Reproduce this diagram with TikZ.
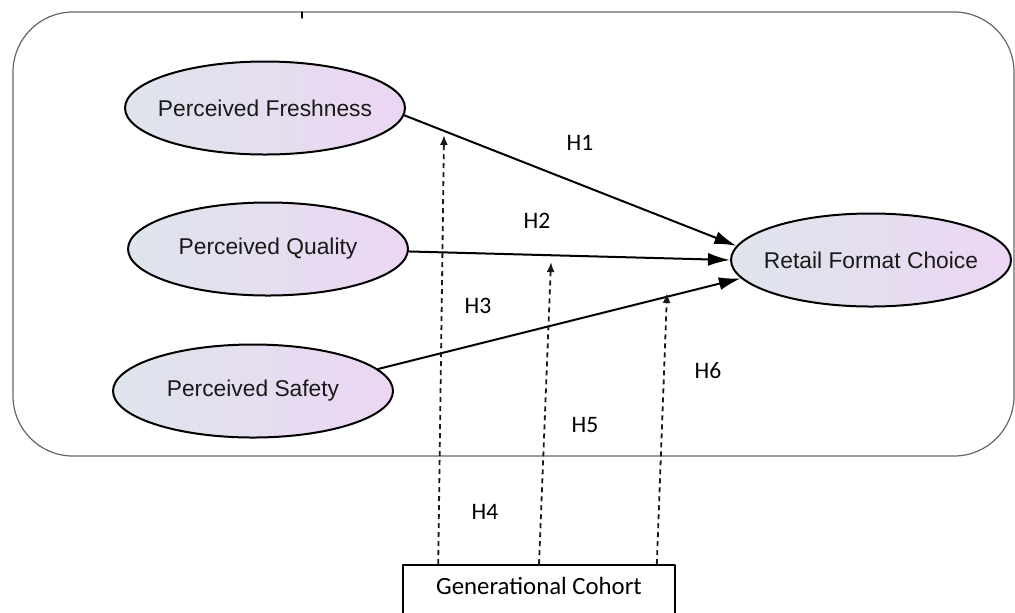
\documentclass[tikz,border=0pt]{standalone}
\usepackage{fontspec}
\setmainfont{Liberation Sans}
\newfontfamily\calibri{Carlito}
\usetikzlibrary{arrows.meta}
\usetikzlibrary{shapes.geometric}

\definecolor{lblue}{RGB}{222,229,236}
\definecolor{lpink}{RGB}{236,214,243}

\begin{document}
\begin{tikzpicture}[line cap=round,line join=round,x=0.5pt,y=-0.5pt,
  construct/.style={ellipse,draw,line width=1pt,left color=lblue,right color=lpink,minimum width=140pt,minimum height=46.5pt,inner sep=0pt,font=\fontsize{11.4}{13}\selectfont,text=black!90},
  effect/.style={line width=1pt,-{Latex[length=11pt,width=6.5pt]}},
  moderation/.style={line width=0.9pt,line cap=butt,black!90,dash pattern=on 2.5pt off 2pt,-{Latex[length=5pt,width=4pt]}},
  hyp/.style={font=\calibri\fontsize{11.8}{13}\selectfont}]
\fill[white] (0,0) rectangle (1015,612);
\useasboundingbox (0,0) rectangle (1015,612);
\draw[black!60,line width=0.6pt,rounded corners=30pt] (13,12) rectangle (1014,456);
\draw[line width=0.6pt] (302,12) -- (302,18);
\node[construct] (fresh) at (265,108) {\makebox[0pt]{Perceived Freshness}};
\node[construct] (quality) at (268,249) {\makebox[0pt]{Perceived Quality}};
\node[construct] (safety) at (253,391) {\makebox[0pt]{Perceived Safety}};
\node[construct] (retail) at (871,260) {\makebox[0pt]{Retail Format Choice}};
\node[draw,line width=0.8pt,minimum width=136pt,minimum height=24.5pt,text depth=3.5pt,font=\calibri\fontsize{12.4}{14}\selectfont] (cohort) at (539,589.5) {Generational Cohort};
\draw[effect] (fresh.-3) -- (retail.174);
\draw[effect] (quality.-1) -- (retail.180);
\draw[effect] (safety.10) -- (retail.188);
\coordinate (t4) at (444,135);
\coordinate (t5) at (551,262);
\coordinate (t6) at (667,293);
\draw[moderation] ([xshift=18pt]cohort.north west) -- (t4);
\draw[moderation] (cohort.north) -- (t5);
\draw[moderation] ([xshift=-9.5pt]cohort.north east) -- (t6);
\node[hyp] (h1) at (580,143) {H1};
\node[hyp] (h2) at (537,221) {H2};
\node[hyp] (h3) at (478,306) {H3};
\node[hyp] (h4) at (485,512) {H4};
\node[hyp] (h5) at (585,425) {H5};
\node[hyp] (h6) at (708,371) {H6};
\end{tikzpicture}
\end{document}
